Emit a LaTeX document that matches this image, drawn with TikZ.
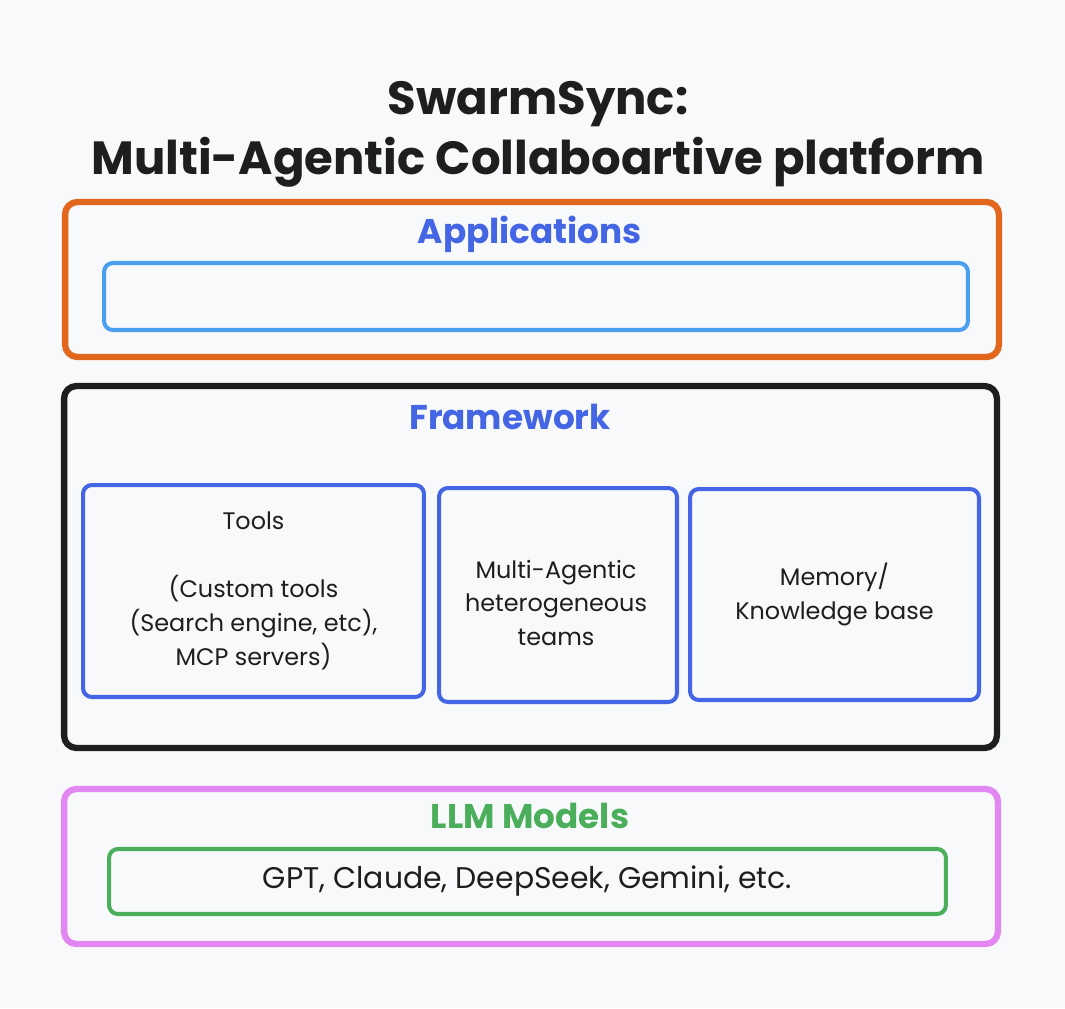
\documentclass[tikz,border=0pt]{standalone}
\usepackage{fontspec}
\setmainfont{Poppins}
\definecolor{bgcol}{HTML}{F8F9FB}
\definecolor{appsorange}{HTML}{E2671C}
\definecolor{appsblue}{HTML}{4A9FEE}
\definecolor{fwblue}{HTML}{4466E4}
\definecolor{fwblack}{HTML}{1E1E1E}
\definecolor{llmpink}{HTML}{E286F2}
\definecolor{llmgreen}{HTML}{4BAE5A}
\begin{document}
\begin{tikzpicture}[x=0.02cm,y=-0.02cm,
    layer/.style={draw,line width=3.6pt,rounded corners=7pt,inner sep=0pt},
    inbox/.style={draw,line width=2.3pt,rounded corners=5pt,inner sep=0pt,
      align=center,text=fwblack,font=\fontsize{13.6}{19.3}\selectfont},
    heading/.style={font=\fontsize{19.5}{22}\selectfont\bfseries}]
  \fill[bgcol] (0,0) rectangle (1065,1008);
  \node[text=fwblack,align=center,font=\fontsize{26.5}{34}\selectfont\bfseries]
    (title) at (538,134) {SwarmSync:\\Multi-Agentic Collaboartive platform};
  % applications layer
  \node[layer,draw=appsorange,minimum width=18.68cm,minimum height=3.1cm]
    (apps) at (532,279.5) {};
  \node[heading,text=fwblue] (appslabel) at (530,234) {Applications};
  \node[inbox,draw=appsblue,minimum width=17.28cm,minimum height=1.34cm]
    (appsbox) at (536,296.5) {};
  % framework layer
  \node[layer,draw=fwblack,minimum width=18.66cm,minimum height=7.24cm]
    (fw) at (530.5,567) {};
  \node[heading,text=fwblue] (fwlabel) at (510,417) {Framework};
  \node[inbox,draw=fwblue,minimum width=6.82cm,minimum height=4.24cm]
    (tools) at (253.5,591) {Tools\\[19.3pt](Custom tools\\(Search engine, etc),\\MCP servers)};
  \node[inbox,draw=fwblue,minimum width=4.76cm,minimum height=4.28cm]
    (teams) at (558,595) {};
  \node[align=center,text=fwblack,font=\fontsize{13.6}{19.3}\selectfont]
    (teamstext) at (556,603) {Multi-Agentic\\heterogeneous\\teams};
  \node[inbox,draw=fwblue,minimum width=5.78cm,minimum height=4.22cm]
    (memory) at (834.5,594.5) {Memory/\\Knowledge base};
  % llm layer
  \node[layer,draw=llmpink,minimum width=18.68cm,minimum height=3.1cm]
    (llm) at (531,866.5) {};
  \node[heading,text=llmgreen] (llmlabel) at (530,816) {LLM Models};
  \node[inbox,draw=llmgreen,minimum width=16.74cm,minimum height=1.3cm,
    font=\fontsize{17}{20}\selectfont]
    (models) at (527.5,881.5) {GPT, Claude, DeepSeek, Gemini, etc.};
\end{tikzpicture}
\end{document}
